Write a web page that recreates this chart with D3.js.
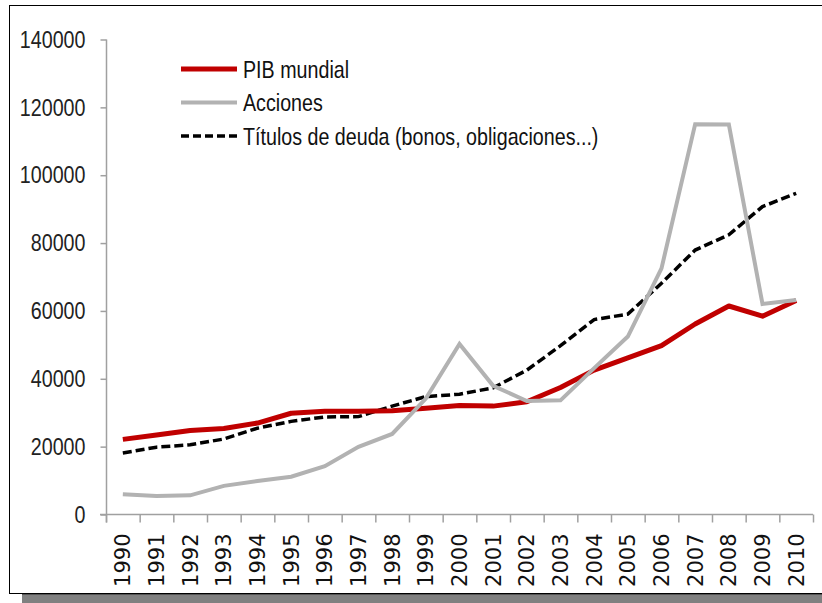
<!DOCTYPE html>
<html>
<head>
<meta charset="utf-8">
<script src="https://cdn.jsdelivr.net/npm/d3@7"></script>
<style>
  body { margin: 0; background: #fff; }
  svg { display: block; }
</style>
</head>
<body>
<svg id="chart" width="822" height="603"></svg>
<script>
var years = ["1990","1991","1992","1993","1994","1995","1996","1997","1998","1999","2000",
             "2001","2002","2003","2004","2005","2006","2007","2008","2009","2010"];
var pib = [22000, 23300, 24600, 25200, 26800, 29700, 30300, 30300, 30400, 31200, 32000,
           31800, 33100, 37300, 42400, 46000, 49600, 56000, 61300, 58300, 62900];
var acciones = [5800, 5300, 5500, 8300, 9700, 11000, 14100, 19800, 23600, 34000, 50100,
                37800, 33300, 33500, 43000, 52300, 72400, 114900, 114800, 61900, 63100];
var titulos = [18000, 19700, 20400, 22100, 25300, 27300, 28600, 28700, 31800, 34600, 35300,
               37200, 42400, 49600, 57300, 58900, 68000, 77800, 82300, 90600, 94500];
var yTicks = [0, 20000, 40000, 60000, 80000, 100000, 120000, 140000];
var seriesNames = ["PIB mundial", "Acciones", "Títulos de deuda (bonos, obligaciones...)"];

var svg = d3.select("#chart");
var narrow = 0.82; // texto estrecho (tipo Arial Narrow)

// marco y sombra
svg.append("rect")
    .attr("x", 22).attr("y", 594).attr("width", 800).attr("height", 9)
    .attr("fill", "#808080");
svg.append("line")
    .attr("x1", 22).attr("x2", 822).attr("y1", 594.5).attr("y2", 594.5)
    .attr("stroke", "#555");
svg.append("rect")
    .attr("x", 9.5).attr("y", 5.5).attr("width", 820).attr("height", 588)
    .attr("fill", "#fff").attr("stroke", "#000").attr("stroke-width", 1);

var x = d3.scaleBand().domain(years).range([106, 813]).padding(0);
var y = d3.scaleLinear().domain([0, 140000]).range([514, 39]);
var cx = function(d, i) { return x(years[i]) + x.bandwidth() / 2; };

var axisColor = "#a0a0a0";

// eje Y
var yAxis = svg.append("g")
    .attr("transform", "translate(106.5,0.5)")
    .call(d3.axisLeft(y).tickValues(yTicks).tickSize(6).tickFormat(d3.format("d")));
yAxis.select(".domain").attr("stroke", axisColor).attr("stroke-width", 1.5)
    .attr("d", "M0," + y(140000) + "V" + (y(0) + 8));
yAxis.selectAll(".tick line").attr("stroke", axisColor).attr("stroke-width", 1.5);
yAxis.selectAll(".tick text")
    .attr("transform", "scale(" + narrow + ",1)")
    .attr("x", -21 / narrow)
    .attr("fill", "#222")
    .style("font-family", "'Liberation Sans', Arial, sans-serif")
    .style("font-size", "24px");

// eje X
var xAxis = svg.append("g")
    .attr("transform", "translate(0," + (y(0) + 0.5) + ")")
    .call(d3.axisBottom(x).tickSize(0).tickPadding(0));
xAxis.select(".domain").attr("stroke", axisColor).attr("stroke-width", 1.5)
    .attr("d", "M100,0H813");
xAxis.selectAll(".tick text")
    .attr("transform", "rotate(-90)")
    .attr("text-anchor", "end")
    .attr("x", -19).attr("y", 0).attr("dy", "0.36em")
    .attr("fill", "#111")
    .style("font-family", "'DejaVu Sans', sans-serif")
    .style("font-size", "21px");
xAxis.selectAll(".bound")
    .data(years.concat(["end"]))
    .enter().append("line")
      .attr("class", "bound")
      .attr("x1", function(d, i) { return 106 + i * x.step() + 0.5; })
      .attr("x2", function(d, i) { return 106 + i * x.step() + 0.5; })
      .attr("y1", 0).attr("y2", 8)
      .attr("stroke", axisColor).attr("stroke-width", 1.5);

// lineas
var line = d3.line()
    .x(function(d, i) { return cx(d, i); })
    .y(function(d) { return y(d); });

svg.append("path").datum(titulos)
    .attr("fill", "none").attr("stroke", "#000").attr("stroke-width", 3.5)
    .attr("stroke-dasharray", "9,4")
    .attr("d", line);
svg.append("path").datum(pib)
    .attr("fill", "none").attr("stroke", "#c00000").attr("stroke-width", 5)
    .attr("stroke-linejoin", "round")
    .attr("d", line);
svg.append("path").datum(acciones)
    .attr("fill", "none").attr("stroke", "#b2b2b2").attr("stroke-width", 4)
    .attr("d", line);

// leyenda
var legStyles = [
  {stroke: "#c00000", width: 5, dash: null},
  {stroke: "#b2b2b2", width: 4, dash: null},
  {stroke: "#000", width: 3.5, dash: "8,4"}
];
var legend = svg.append("g")
    .selectAll("g")
    .data(seriesNames)
    .enter().append("g")
      .attr("transform", function(d, i) { return "translate(181," + (69 + i * 33.5) + ")"; });
legend.append("line")
    .attr("x1", 0).attr("x2", 56)
    .attr("stroke", function(d, i) { return legStyles[i].stroke; })
    .attr("stroke-width", function(d, i) { return legStyles[i].width; })
    .attr("stroke-dasharray", function(d, i) { return legStyles[i].dash; });
legend.append("text")
    .attr("transform", "translate(62,0) scale(" + narrow + ",1)")
    .attr("dy", "0.36em")
    .attr("fill", "#111")
    .style("font-family", "'Liberation Sans', Arial, sans-serif")
    .style("font-size", "24px")
    .text(function(d) { return d; });
</script>
</body>
</html>
